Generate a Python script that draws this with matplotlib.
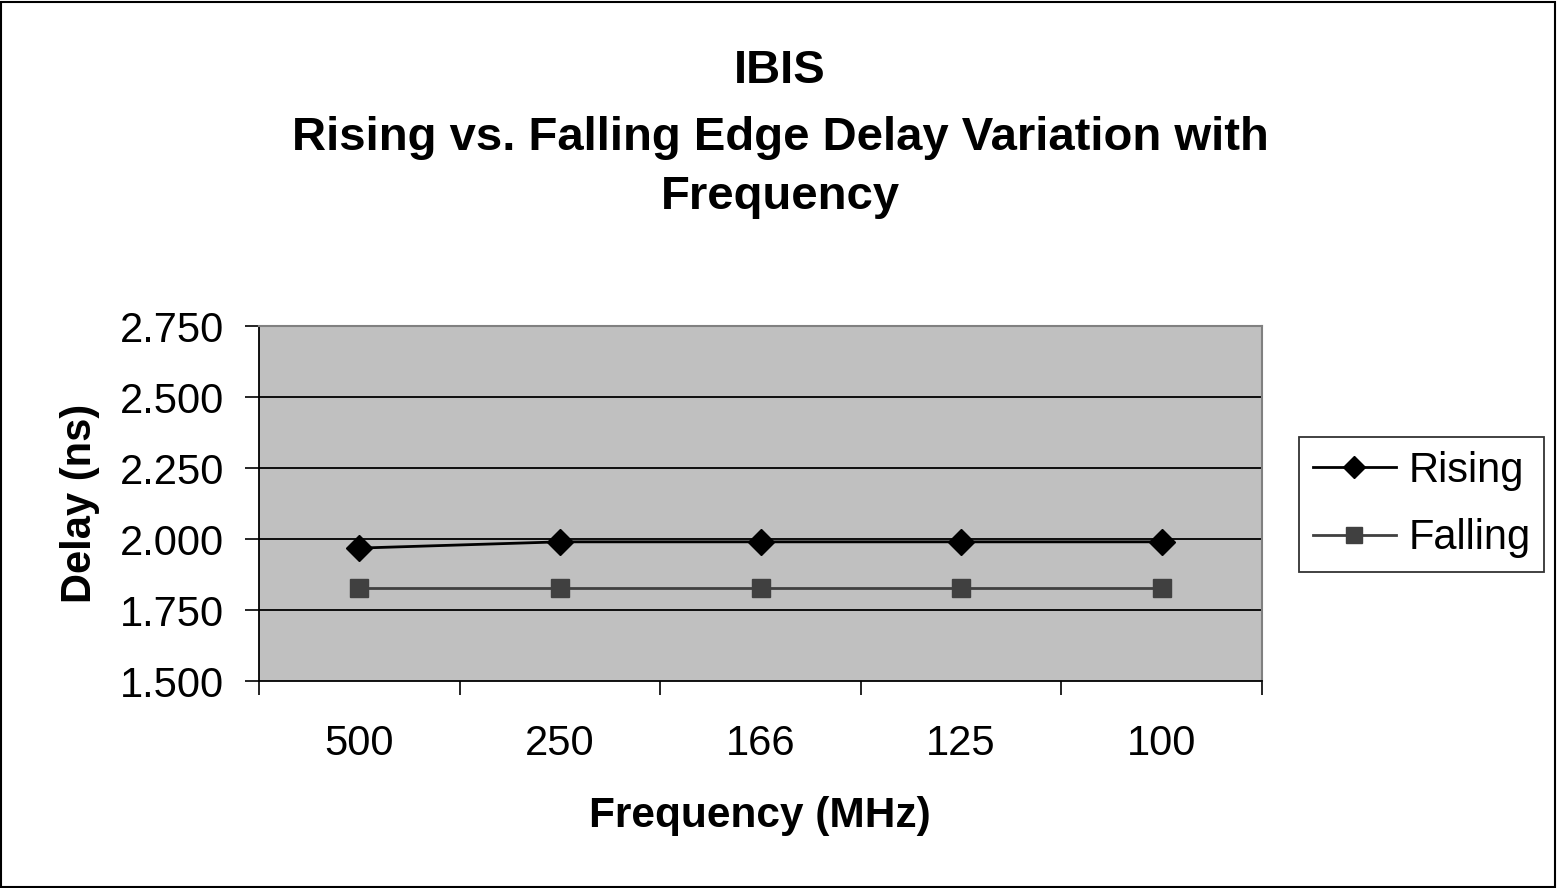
import matplotlib
matplotlib.use("Agg")
import matplotlib.pyplot as plt
from matplotlib.patches import Rectangle

plt.rcParams['font.family'] = ['Liberation Sans', 'DejaVu Sans']

categories = ["500", "250", "166", "125", "100"]
rising = [1.968, 1.990, 1.990, 1.990, 1.990]
falling = [1.826, 1.826, 1.826, 1.826, 1.826]
yticks = [1.500, 1.750, 2.000, 2.250, 2.500, 2.750]

W, H = 1557, 888
fig = plt.figure(figsize=(W / 100, H / 100), dpi=100)
fig.patch.set_facecolor('white')

L, R, T, B = 259, 1262, 326, 681
ax = fig.add_axes([L / W, (H - B) / H, (R - L) / W, (B - T) / H])
ax.set_facecolor('#C0C0C0')

x = list(range(len(categories)))
ax.plot(x, rising, color='black', lw=2.0, marker='D', markersize=13,
        markerfacecolor='black', markeredgecolor='black', label='Rising', zorder=3)
ax.plot(x, falling, color='#404040', lw=2.0, marker='s', markersize=13,
        markerfacecolor='#404040', markeredgecolor='#404040', label='Falling', zorder=3)

ax.set_xlim(-0.5, len(categories) - 0.5)
ax.set_ylim(1.5, 2.75)
ax.set_yticks(yticks)
ax.set_yticklabels([f"{v:.3f}" for v in yticks])
ax.set_xticks([i - 0.5 for i in range(len(categories) + 1)])
ax.set_xticklabels([])
ax.set_xticks(x, minor=True)
ax.set_xticklabels(categories, minor=True)
ax.tick_params(axis='x', which='minor', length=0, labelsize=30, pad=31)
ax.tick_params(axis='x', which='major', direction='out', length=10, width=1.2, color='black')
ax.tick_params(axis='y', direction='out', length=10, width=1.2, labelsize=30, pad=15)

for yv in yticks[1:-1]:
    ax.axhline(yv, color='black', lw=1.3, zorder=1)

for s in ['top', 'right']:
    ax.spines[s].set_color('#808080')
    ax.spines[s].set_linewidth(1.5)
for s in ['left', 'bottom']:
    ax.spines[s].set_color('black')
    ax.spines[s].set_linewidth(1.3)

ax.set_xlabel('Frequency (MHz)', fontsize=30.5, fontweight='bold', va='center', ha='center')
ax.xaxis.set_label_coords((760 - L) / (R - L), (B - 816) / (B - T))
ax.set_ylabel('Delay (ns)', fontsize=30, fontweight='bold', va='center', ha='center')
ax.yaxis.set_label_coords((80 - L) / (R - L), (B - 503) / (B - T))

fig.text(780 / W, 1 - 71 / H, 'IBIS', ha='center', va='center', fontsize=34, fontweight='bold')
fig.text(780 / W, 1 - 138 / H, 'Rising vs. Falling Edge Delay Variation with', ha='center', va='center',
         fontsize=34, fontweight='bold')
fig.text(780 / W, 1 - 197 / H, 'Frequency', ha='center', va='center', fontsize=34, fontweight='bold')

leg = fig.legend(loc='upper left', bbox_to_anchor=(1299 / W, 1 - 437 / H), fontsize=30,
                 frameon=True, fancybox=False, edgecolor='black', borderpad=0.33,
                 handlelength=2.0, handletextpad=0.3, labelspacing=0.66, borderaxespad=0,
                 markerscale=0.9)
leg.get_frame().set_linewidth(1.3)

fig.patches.append(Rectangle((1 / W, 1 / H), (W - 3) / W, (H - 3) / H, transform=fig.transFigure,
                             fill=False, edgecolor='black', lw=1.5))

fig.savefig('out.png', dpi=100)
